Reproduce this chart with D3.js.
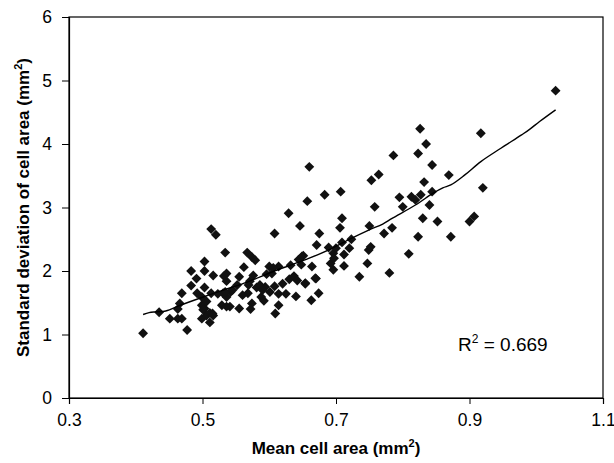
<!DOCTYPE html>
<html>
<head>
<meta charset="utf-8">
<script src="https://cdn.jsdelivr.net/npm/d3@7"></script>
<style>
  body { margin: 0; background: #fff; }
  svg { display: block; font-family: "Liberation Sans", Arial, sans-serif; }
</style>
</head>
<body>
<div id="chart"></div>
<script>
// Mean cell area (mm2) for each sample
const meanArea = [
  0.411, 0.435, 0.451, 0.463, 0.469, 0.463, 0.466, 0.469, 0.477, 0.483,
  0.483, 0.491, 0.492, 0.499, 0.503, 0.503, 0.503, 0.499, 0.503, 0.499,
  0.506, 0.511, 0.515, 0.513, 0.520, 0.516, 0.523, 0.529, 0.534, 0.532,
  0.536, 0.531, 0.536, 0.542, 0.541, 0.552, 0.555, 0.555, 0.562, 0.567,
  0.574, 0.579, 0.571, 0.576, 0.568, 0.574, 0.572, 0.581, 0.588, 0.592,
  0.594, 0.596, 0.600, 0.604, 0.608, 0.608, 0.609, 0.614, 0.614, 0.614,
  0.625, 0.629, 0.632, 0.630, 0.637, 0.640, 0.642, 0.646, 0.644, 0.651,
  0.648, 0.654, 0.657, 0.660, 0.663, 0.664, 0.670, 0.674, 0.671, 0.675,
  0.683, 0.689, 0.692, 0.696, 0.696, 0.700, 0.707, 0.706, 0.709, 0.709,
  0.712, 0.712, 0.720, 0.723, 0.735, 0.747, 0.749, 0.750, 0.752, 0.753,
  0.758, 0.764, 0.772, 0.780, 0.784, 0.786, 0.795, 0.800, 0.809, 0.813,
  0.819, 0.823, 0.823, 0.826, 0.827, 0.830, 0.832, 0.835, 0.840, 0.844,
  0.844, 0.852, 0.869, 0.872, 0.900, 0.907, 0.917, 0.920, 1.029,
  0.513, 0.534, 0.501, 0.511, 0.536, 0.536, 0.586, 0.569, 0.601, 0.606,
  0.506, 0.516, 0.545, 0.560, 0.590, 0.620, 0.649, 0.697, 0.669, 0.654
];

// Standard deviation of cell area (mm2), same order
const sdArea = [
  1.02, 1.35, 1.25, 1.25, 1.25, 1.40, 1.49, 1.65, 1.07, 1.77,
  2.00, 1.88, 1.65, 1.59, 2.15, 2.00, 1.74, 1.46, 1.41, 1.25,
  1.30, 1.19, 1.33, 2.66, 2.57, 1.93, 1.64, 1.46, 2.29, 1.92,
  1.84, 1.65, 1.59, 1.67, 1.44, 1.78, 1.41, 1.91, 2.06, 2.29,
  2.22, 2.17, 1.84, 1.93, 1.65, 1.49, 1.40, 1.74, 1.59, 1.53,
  1.75, 1.95, 2.07, 1.96, 1.76, 2.59, 1.33, 1.46, 1.64, 2.07,
  1.64, 2.91, 2.09, 1.87, 1.92, 1.60, 1.85, 2.71, 2.18, 2.24,
  2.10, 1.80, 3.10, 3.64, 1.54, 2.07, 1.88, 1.65, 2.41, 2.59,
  3.20, 2.37, 2.12, 2.02, 2.28, 2.36, 3.25, 2.68, 2.83, 2.45,
  2.26, 2.08, 2.36, 2.50, 1.91, 2.12, 2.33, 2.71, 2.38, 3.43,
  3.01, 3.52, 2.59, 1.97, 2.68, 3.82, 3.16, 3.01, 2.27, 3.17,
  3.12, 2.54, 3.85, 4.24, 3.20, 2.83, 3.40, 4.00, 3.04, 3.67,
  3.25, 2.78, 3.51, 2.54, 2.78, 2.86, 4.17, 3.31, 4.84,
  1.65, 1.67, 1.39, 1.34, 1.44, 1.96, 1.78, 1.78, 1.67, 2.05,
  1.52, 1.30, 1.70, 1.62, 1.70, 1.80, 2.23, 2.20, 1.885, 1.81
];

// Fitted trend line (slightly wavy, as in the source)
const trendX = [0.411, 0.420, 0.430, 0.445, 0.467, 0.499, 0.531, 0.568, 0.605, 0.632,
  0.659, 0.691, 0.723, 0.749, 0.770, 0.784, 0.819, 0.845, 0.860, 0.872, 0.893, 0.917,
  0.947, 0.978, 0.990, 1.005, 1.029];
const trendY = [1.315, 1.345, 1.357, 1.370, 1.462, 1.583, 1.698, 1.830, 1.988, 2.093,
  2.198, 2.340, 2.514, 2.645, 2.740, 2.829, 3.039, 3.223, 3.310, 3.355, 3.513, 3.723,
  3.933, 4.144, 4.230, 4.354, 4.538];

const xTicks = [0.3, 0.5, 0.7, 0.9, 1.1];
const yTicks = [0, 1, 2, 3, 4, 5, 6];

const width = 614, height = 463;
const margin = { top: 17, right: 11, bottom: 65, left: 69 };

const svg = d3.select('#chart').append('svg')
  .attr('width', width)
  .attr('height', height);

const x = d3.scaleLinear().domain([0.3, 1.1]).range([margin.left, width - margin.right]);
const y = d3.scaleLinear().domain([0, 6]).range([height - margin.bottom, margin.top]);

// frame
svg.append('rect')
  .attr('x', x(0.3)).attr('y', y(6))
  .attr('width', x(1.1) - x(0.3)).attr('height', y(0) - y(6))
  .attr('fill', 'none').attr('stroke', '#000').attr('stroke-width', 1.2);

const xAxis = svg.append('g')
  .attr('transform', `translate(0,${y(0)})`)
  .call(d3.axisBottom(x).tickValues(xTicks).tickFormat(d3.format('.1f')).tickSize(6).tickPadding(10));

const yAxis = svg.append('g')
  .attr('transform', `translate(${x(0.3)},0)`)
  .call(d3.axisLeft(y).tickValues(yTicks).tickFormat(d3.format('d')).tickSize(7).tickPadding(10));

[xAxis, yAxis].forEach(g => {
  g.select('.domain').attr('stroke', '#000').attr('stroke-width', 1.2);
  g.selectAll('.tick line').attr('stroke', '#000');
  g.selectAll('.tick text')
    .attr('fill', '#000')
    .style('font-size', '17.5px')
    .style('font-family', '"Liberation Sans", Arial, sans-serif');
});

// points
const pts = meanArea.map((m, i) => ({ m, s: sdArea[i] }));
const diamond = d3.symbol().type(d3.symbolDiamond2).size(62);

svg.append('g')
  .selectAll('path')
  .data(pts)
  .join('path')
  .attr('transform', d => `translate(${x(d.m)},${y(d.s)})`)
  .attr('d', diamond)
  .attr('fill', '#111');

// trend line
const line = d3.line()
  .x(d => x(d[0]))
  .y(d => y(d[1]))
  .curve(d3.curveCatmullRom);

svg.append('path')
  .datum(trendX.map((v, i) => [v, trendY[i]]))
  .attr('d', line)
  .attr('fill', 'none')
  .attr('stroke', '#000')
  .attr('stroke-width', 1.4);

// R squared label
const r2 = svg.append('text')
  .attr('x', 458)
  .attr('y', 351)
  .style('font-size', '19px')
  .attr('fill', '#000');
r2.append('tspan').text('R');
r2.append('tspan').attr('dy', -8).style('font-size', '12px').text('2');
r2.append('tspan').attr('dy', 8).text(' = 0.669');

// axis titles
const xTitle = svg.append('text')
  .attr('x', (x(0.3) + x(1.1)) / 2)
  .attr('y', 454)
  .attr('text-anchor', 'middle')
  .style('font-size', '17px')
  .style('font-weight', 'bold');
xTitle.append('tspan').text('Mean cell area (mm');
xTitle.append('tspan').attr('dy', -7).style('font-size', '11px').text('2');
xTitle.append('tspan').attr('dy', 7).text(')');

const yTitle = svg.append('text')
  .attr('transform', `translate(29,${(y(0) + y(6)) / 2}) rotate(-90)`)
  .attr('text-anchor', 'middle')
  .style('font-size', '17px')
  .style('font-weight', 'bold');
yTitle.append('tspan').text('Standard deviation of cell area (mm');
yTitle.append('tspan').attr('dy', -7).style('font-size', '11px').text('2');
yTitle.append('tspan').attr('dy', 7).text(')');
</script>
</body>
</html>
